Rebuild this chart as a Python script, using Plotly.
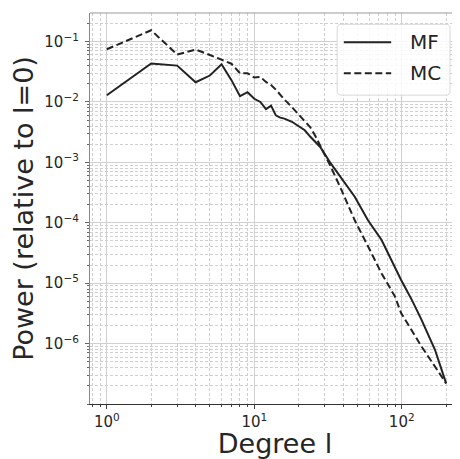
import plotly.graph_objects as go

# ---- data ----
mf_degree = [1, 2, 3, 4, 5, 6, 7, 8, 9, 10, 11, 12, 13, 14, 15, 16, 18, 20, 22, 24,
             28, 33, 41, 48, 59, 73, 99, 117, 136, 168, 200]
mf_power = [0.0129, 0.0433, 0.040, 0.0212, 0.0274, 0.042, 0.023, 0.0125, 0.0145, 0.0113,
            0.010, 0.0076, 0.0087, 0.0060, 0.0055, 0.0053, 0.0047, 0.0040, 0.0034, 0.00265,
            0.0018, 0.00096, 0.00045, 0.00027, 1.1e-4, 5.2e-5, 1.13e-5, 5.3e-6, 2.5e-6,
            7.9e-7, 2.2e-7]

mc_degree = [1, 2, 3, 4, 5, 6, 7, 8, 9, 10, 11, 12, 13, 14, 15, 16, 18, 20, 22, 24,
             26, 30, 33, 39, 48, 59, 73, 90, 99, 136, 200]
mc_power = [0.0746, 0.154, 0.061, 0.0737, 0.060, 0.050, 0.043, 0.030, 0.030, 0.0254,
            0.026, 0.0215, 0.019, 0.016, 0.0129, 0.011, 0.0082, 0.0062, 0.0048, 0.0038,
            0.0027, 0.0014, 8.5e-4, 3.5e-4, 1.1e-4, 4.1e-5, 1.45e-5, 6e-6, 3.2e-6, 9e-7,
            2.2e-7]

series_names = ["MF", "MC"]

x_tickvals = [1, 10, 100]
x_ticktext = ["10<sup>0</sup>", "10<sup>1</sup>", "10<sup>2</sup>"]
y_tickvals = [1e-1, 1e-2, 1e-3, 1e-4, 1e-5, 1e-6]
y_ticktext = ["10<sup>\u22121</sup>", "10<sup>\u22122</sup>", "10<sup>\u22123</sup>",
              "10<sup>\u22124</sup>", "10<sup>\u22125</sup>", "10<sup>\u22126</sup>"]

FONT = "DejaVu Sans"
LINE_COLOR = "#222222"
GRID = "#d0d0d0"
MC_DASH = "7px,3.5px"

# the page body adds an 8px offset, so the figure is drawn 8px smaller
W, H = 452, 451

fig = go.Figure()
fig.add_trace(go.Scatter(x=mf_degree, y=mf_power, mode="lines", name=series_names[0],
                         line=dict(color=LINE_COLOR, width=2), showlegend=False))
fig.add_trace(go.Scatter(x=mc_degree, y=mc_power, mode="lines", name=series_names[1],
                         line=dict(color=LINE_COLOR, width=2, dash=MC_DASH), showlegend=False))

fig.update_layout(
    width=W, height=H,
    margin=dict(l=82, r=0, t=5, b=55),
    paper_bgcolor="white", plot_bgcolor="white",
    font=dict(family=FONT, color="#262626"),
    showlegend=False,
    xaxis=dict(
        type="log", range=[-0.114, 2.395], automargin=False,
        tickvals=x_tickvals, ticktext=x_ticktext,
        tickfont=dict(size=15, family=FONT),
        showgrid=True, gridcolor=GRID, gridwidth=1.2,
        minor=dict(dtick="D1", showgrid=True, gridcolor=GRID, griddash="3px,2px", gridwidth=1,
                   ticks="outside", ticklen=2, tickcolor="#444"),
        ticks="outside", ticklen=4, tickcolor="#444",
        showline=True, linecolor="#333333", linewidth=1.2,
        zeroline=False,
        title=dict(text="Degree l", font=dict(size=27, family=FONT), standoff=4),
    ),
    yaxis=dict(
        type="log", range=[-7.0, -0.527], automargin=False,
        tickvals=y_tickvals, ticktext=y_ticktext,
        tickfont=dict(size=15, family=FONT), ticklabelstandoff=3,
        showgrid=True, gridcolor=GRID, gridwidth=1.2,
        minor=dict(dtick="D1", showgrid=True, gridcolor=GRID, griddash="3px,2px", gridwidth=1,
                   ticks="outside", ticklen=2, tickcolor="#666"),
        ticks="outside", ticklen=4, tickcolor="#666",
        showline=True, linecolor="#888888", linewidth=1.2, mirror=True,
        zeroline=False,
        title=dict(text="Power (relative to l=0)", font=dict(size=27, family=FONT), standoff=8),
    ),
)

fig.add_shape(type="line", xref="paper", yref="paper", x0=0, x1=1, y0=1, y1=1,
              line=dict(color="#999999", width=1.2))

# legend box (drawn in paper coordinates)
lx0, lx1, ly0, ly1 = 0.668, 0.973, 0.790, 0.971
rx, ry = 0.011, 0.010
path = (f"M {lx0+rx},{ly0} L {lx1-rx},{ly0} Q {lx1},{ly0} {lx1},{ly0+ry} "
        f"L {lx1},{ly1-ry} Q {lx1},{ly1} {lx1-rx},{ly1} L {lx0+rx},{ly1} "
        f"Q {lx0},{ly1} {lx0},{ly1-ry} L {lx0},{ly0+ry} Q {lx0},{ly0} {lx0+rx},{ly0} Z")
fig.add_shape(type="path", xref="paper", yref="paper", path=path,
              fillcolor="rgba(255,255,255,0.85)", line=dict(color="#d8d8d8", width=1))
legend_rows = [(0.925, series_names[0], "solid"), (0.846, series_names[1], MC_DASH)]
for ypos, name, dash in legend_rows:
    fig.add_shape(type="line", xref="paper", yref="paper", x0=0.686, x1=0.814,
                  y0=ypos, y1=ypos, line=dict(color=LINE_COLOR, width=2, dash=dash))
    fig.add_annotation(xref="paper", yref="paper", x=0.859, y=ypos, text=name,
                       showarrow=False, xanchor="left", yanchor="middle",
                       font=dict(size=20, family=FONT, color="#262626"))

fig.write_html("out.html")
